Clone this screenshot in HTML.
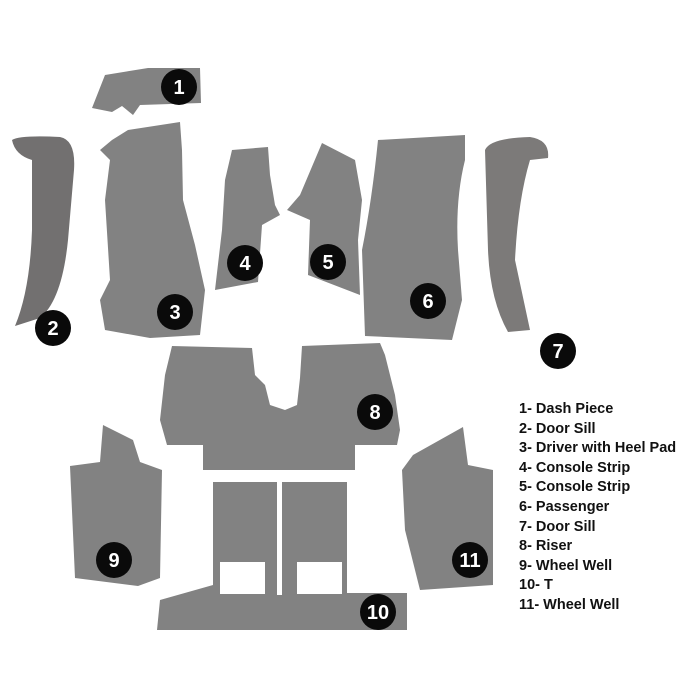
<!DOCTYPE html>
<html><head><style>
body{margin:0;background:#fff;width:700px;height:700px;overflow:hidden}
svg{position:absolute;left:0;top:0}
.lg{position:absolute;left:519px;top:400px;font:bold 14.5px "Liberation Sans",sans-serif;line-height:19.6px;color:#111}
</style></head><body>
<svg width="700" height="700" viewBox="0 0 700 700">
<g fill="#828282">
<polygon points="92,108 105,75 148,68 200,68 201,103 140,105 133,115 122,106 112,112"/>
<path d="M12,140 Q20,135 60,137 Q76,140 74,170 L68,240 Q62,300 40,318 L15,326 Q30,290 32,230 L32,160 Q15,155 12,140Z" fill="#727070"/>
<polygon points="100,150 112,140 128,130 180,122 182,150 183,200 195,245 205,290 200,335 150,338 105,330 100,300 110,280 105,200 110,160"/>
<polygon points="232,150 268,147 270,175 275,205 280,215 262,225 258,282 215,290 222,230 225,180"/>
<polygon points="287,210 300,195 322,143 355,160 362,200 358,240 360,295 308,275 310,220"/>
<path d="M378,140 L465,135 L465,160 Q455,200 458,250 L462,300 L452,340 L365,336 L362,250 Q372,200 378,140Z"/>
<path d="M485,150 Q490,138 530,137 Q550,140 548,158 L530,160 Q518,200 515,260 L530,330 L508,332 Q490,300 488,250 Z" fill="#7c7a79"/>
<polygon points="172,346 252,348 255,375 265,385 270,405 285,410 297,405 300,378 302,346 380,343 385,355 395,395 400,430 397,445 355,445 355,470 203,470 203,445 167,445 160,420 165,375"/>
<polygon points="70,466 100,462 103,425 133,440 140,462 162,470 160,578 138,586 75,578"/>
<polygon points="213,482 277,482 277,595 282,595 282,482 347,482 347,593 407,593 407,630 157,630 160,600 213,585"/>
<polygon points="402,470 413,455 463,427 468,465 493,470 493,585 420,590 405,530"/>
</g>
<g fill="#fff">
<rect x="220" y="562" width="45" height="32"/>
<rect x="297" y="562" width="45" height="32"/>
</g>
<g fill="#0a0a0a">
<circle cx="179" cy="87" r="18"/><circle cx="53" cy="328" r="18"/><circle cx="175" cy="312" r="18"/>
<circle cx="245" cy="263" r="18"/><circle cx="328" cy="262" r="18"/><circle cx="428" cy="301" r="18"/>
<circle cx="558" cy="351" r="18"/><circle cx="375" cy="412" r="18"/><circle cx="114" cy="560" r="18"/>
<circle cx="378" cy="612" r="18"/><circle cx="470" cy="560" r="18"/>
</g>
<g fill="#fff" font-family="Liberation Sans,sans-serif" font-weight="bold" font-size="20" text-anchor="middle">
<text x="179" y="94">1</text><text x="53" y="335">2</text><text x="175" y="319">3</text>
<text x="245" y="270">4</text><text x="328" y="269">5</text><text x="428" y="308">6</text>
<text x="558" y="358">7</text><text x="375" y="419">8</text><text x="114" y="567">9</text>
<text x="378" y="619">10</text><text x="470" y="567">11</text>
</g>
</svg>
<div class="lg">1- Dash Piece<br>2- Door Sill<br>3- Driver with Heel Pad<br>4- Console Strip<br>5- Console Strip<br>6- Passenger<br>7- Door Sill<br>8- Riser<br>9- Wheel Well<br>10- T<br>11- Wheel Well</div>
</body></html>
